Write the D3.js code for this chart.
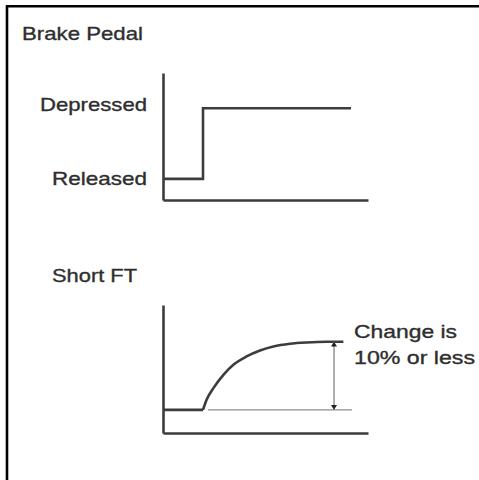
<!DOCTYPE html>
<html>
<head>
<meta charset="utf-8">
<script src="https://cdn.jsdelivr.net/npm/d3@7"></script>
<style>
  html, body { margin: 0; padding: 0; background: #fff; }
  svg { display: block; }
  text { font-family: "Liberation Sans", Arial, sans-serif; fill: #2e2e2e; stroke: #2e2e2e; stroke-width: 0.35px; }
</style>
</head>
<body>
<svg id="chart" width="479" height="480"></svg>
<script>
// Brake pedal state over time (0 = released, 1 = depressed)
const pedalTime = [0, 2.0, 9.4];
const pedalState = [0, 1, 1];
const stateValues = [0, 1];
const stateLabels = ["Released", "Depressed"];

// Short fuel trim response (% change from the idle level)
const ftIdleTime = [0, 2.0];
const ftIdleValue = [0, 0];
const ftRiseTime = [2.0, 2.18, 2.52, 3.02, 3.52, 4.18, 4.85, 5.52, 6.35, 7.18, 8.18, 9.02];
const ftRiseValue = [0, 1.47, 3.19, 5.15, 6.62, 7.84, 8.72, 9.31, 9.71, 9.9, 10.0, 10.0];
const ftRefTime = [2.25, 9.45];
const ftLimit = 10;          // allowed change, %
const ftLimitTime = 8.55;    // where the dimension arrow sits
const noteLines = ["Change is", "10% or less"];

const titles = ["Brake Pedal", "Short FT"];

const svg = d3.select("#chart");
const ink = "#3c3c3c";

// frame
svg.append("path")
  .attr("d", "M7,480 V6.2 H479")
  .attr("fill", "none").attr("stroke", "#000").attr("stroke-width", 2.6);

// text helper: Arial metrics, widened to the drawing's proportions
function label(x, y, str, len) {
  return svg.append("text")
    .attr("x", x).attr("y", y)
    .attr("font-size", 19)
    .attr("textLength", len)
    .attr("lengthAdjust", "spacingAndGlyphs")
    .text(str);
}

const x = d3.scaleLinear().domain([0, 10.25]).range([163, 368]);

// ---------- Brake pedal panel ----------
const yPedal = d3.scaleLinear().domain([-0.3, 1.5]).range([200, 73]);

svg.append("g").attr("transform", `translate(${x(0)},0)`)
  .call(d3.axisLeft(yPedal).tickValues([]).tickSizeOuter(0))
  .call(g => g.select(".domain").attr("stroke", ink).attr("stroke-width", 2.6));
svg.append("g").attr("transform", `translate(0,${yPedal(-0.3)})`)
  .call(d3.axisBottom(x).tickValues([]).tickSizeOuter(0))
  .call(g => g.select(".domain").attr("stroke", ink).attr("stroke-width", 2.6));

const pedalPts = pedalTime.map((t, i) => [t, pedalState[i]]);
svg.append("path")
  .datum(pedalPts)
  .attr("fill", "none").attr("stroke", ink).attr("stroke-width", 2.6)
  .attr("d", d3.line().x(d => x(d[0])).y(d => yPedal(d[1])).curve(d3.curveStepAfter));

label(22, 40, titles[0], 121);
const stateLen = { "Released": 95, "Depressed": 107 };
const stateDy = { "Released": 6, "Depressed": 3 };
stateValues.forEach((v, i) => {
  const s = stateLabels[i];
  label(147 - stateLen[s], yPedal(v) + stateDy[s], s, stateLen[s]);
});

// ---------- Short FT panel ----------
const yFt = d3.scaleLinear().domain([-3.4, 15.4]).range([433, 305]);

svg.append("g").attr("transform", `translate(${x(0)},0)`)
  .call(d3.axisLeft(yFt).tickValues([]).tickSizeOuter(0))
  .call(g => g.select(".domain").attr("stroke", ink).attr("stroke-width", 2.6));
svg.append("g").attr("transform", `translate(0,${yFt(-3.4)})`)
  .call(d3.axisBottom(x).tickValues([]).tickSizeOuter(0))
  .call(g => g.select(".domain").attr("stroke", ink).attr("stroke-width", 2.6));

// reference level (thin grey)
svg.append("line")
  .attr("x1", x(ftRefTime[0])).attr("x2", x(ftRefTime[1]))
  .attr("y1", yFt(0)).attr("y2", yFt(0))
  .attr("stroke", "#8c8c8c").attr("stroke-width", 1.4);

// idle segment
svg.append("path")
  .datum(ftIdleTime.map((t, i) => [t, ftIdleValue[i]]))
  .attr("fill", "none").attr("stroke", ink).attr("stroke-width", 2.6)
  .attr("d", d3.line().x(d => x(d[0])).y(d => yFt(d[1])));

// rise after the pedal is pressed
svg.append("path")
  .datum(ftRiseTime.map((t, i) => [t, ftRiseValue[i]]))
  .attr("fill", "none").attr("stroke", ink).attr("stroke-width", 2.6)
  .attr("d", d3.line().x(d => x(d[0])).y(d => yFt(d[1])).curve(d3.curveMonotoneX));

// dimension arrow for the allowed change
const defs = svg.append("defs");
defs.append("marker")
  .attr("id", "head")
  .attr("viewBox", "0 0 8 10")
  .attr("refX", 8).attr("refY", 5)
  .attr("markerUnits", "userSpaceOnUse")
  .attr("markerWidth", 8).attr("markerHeight", 6)
  .attr("orient", "auto-start-reverse")
  .append("path").attr("d", "M0,0 L8,5 L0,10 Z").attr("fill", "#222");

svg.append("line")
  .attr("x1", x(ftLimitTime)).attr("x2", x(ftLimitTime))
  .attr("y1", yFt(ftLimit)).attr("y2", yFt(0))
  .attr("stroke", "#8c8c8c").attr("stroke-width", 1.4)
  .attr("marker-start", "url(#head)")
  .attr("marker-end", "url(#head)");

label(52, 282, titles[1], 85);
label(354, 338, noteLines[0], 103);
label(354, 364, noteLines[1], 121);
</script>
</body>
</html>
